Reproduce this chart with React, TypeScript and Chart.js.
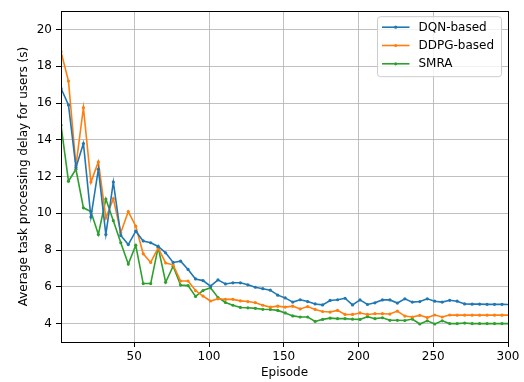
import React, { useEffect, useRef } from "react";
import { Chart, registerables } from "chart.js";

Chart.register(...registerables);

const episodes = [
  1, 6, 11, 16, 21, 26, 31, 36, 41, 46, 51, 56, 61, 66, 71, 76, 81, 86, 91, 96,
  101, 106, 111, 116, 121, 126, 131, 136, 141, 146, 151, 156, 161, 166, 171, 176,
  181, 186, 191, 196, 201, 206, 211, 216, 221, 226, 231, 236, 241, 246, 251, 256,
  261, 266, 271, 276, 281, 286, 291, 296, 301,
];

const dqnBased = [
  16.8, 15.9, 12.5, 13.8, 9.8, 12.4, 8.85, 11.7, 8.8, 8.3, 9.03, 8.5, 8.4, 8.2,
  7.85, 7.33, 7.4, 6.95, 6.43, 6.34, 6.04, 6.38, 6.16, 6.22, 6.22, 6.11, 5.98,
  5.9, 5.82, 5.55, 5.4, 5.17, 5.3, 5.2, 5.07, 5.02, 5.26, 5.3, 5.38, 5.02, 5.29,
  5.04, 5.13, 5.29, 5.29, 5.12, 5.35, 5.17, 5.2, 5.35, 5.22, 5.17, 5.27, 5.22,
  5.07, 5.06, 5.06, 5.05, 5.05, 5.05, 5.04,
];

const ddpgBased = [
  18.8, 17.2, 12.6, 15.75, 11.7, 12.8, 9.75, 10.8, 8.95, 10.1, 9.3, 7.8, 7.33,
  8.12, 7.3, 7.2, 6.32, 6.32, 5.8, 5.5, 5.23, 5.35, 5.32, 5.32, 5.24, 5.2, 5.14,
  5.0, 4.9, 4.95, 4.9, 4.95, 4.8, 4.93, 4.77, 4.66, 4.63, 4.72, 4.5, 4.5, 4.58,
  4.5, 4.54, 4.54, 4.52, 4.68, 4.41, 4.36, 4.45, 4.33, 4.47, 4.36, 4.47, 4.46,
  4.46, 4.46, 4.46, 4.46, 4.46, 4.46, 4.46,
];

const smra = [
  14.8, 11.75, 12.4, 10.3, 10.1, 8.85, 10.78, 9.6, 8.4, 7.24, 8.26, 6.18, 6.18,
  8.15, 6.25, 7.12, 6.1, 6.07, 5.48, 5.8, 5.95, 5.42, 5.15, 5.0, 4.88, 4.86, 4.83,
  4.78, 4.77, 4.72, 4.58, 4.42, 4.36, 4.36, 4.12, 4.23, 4.3, 4.27, 4.27, 4.24,
  4.23, 4.38, 4.27, 4.32, 4.18, 4.18, 4.17, 4.25, 3.98, 4.15, 3.98, 4.15, 4.0,
  4.0, 4.03, 4.0, 4.0, 4.0, 4.0, 4.0, 4.0,
];

const seriesNames = ["DQN-based", "DDPG-based", "SMRA"];
const seriesColors = ["#1f77b4", "#ff7f0e", "#2ca02c"];
const xTicks = [50, 100, 150, 200, 250, 300];
const yTicks = [4, 6, 8, 10, 12, 14, 16, 18, 20];
const xTitle = "Episode";
const yTitle = "Average task processing delay for users (s)";

const FONT = "'DejaVu Sans', sans-serif";

const framePlugin = {
  id: "frame",
  afterDatasetsDraw(chart: any) {
    const { ctx, chartArea: a } = chart;
    ctx.save();
    ctx.strokeStyle = "#000";
    ctx.lineWidth = 1;
    const l = Math.round(a.left) + 0.5;
    const t = Math.round(a.top) + 0.5;
    const r = Math.round(a.right) + 0.5;
    const b = Math.round(a.bottom) + 0.5;
    ctx.strokeRect(l, t, r - l, b - t);
    ctx.restore();
  },
};

const legendPlugin = {
  id: "innerLegend",
  afterDraw(chart: any) {
    const { ctx, chartArea: a } = chart;
    const w = 124;
    const h = 60;
    const x = a.right - 6.5 - w;
    const y = a.top + 5.5;
    ctx.save();
    ctx.beginPath();
    const rr = 3;
    ctx.moveTo(x + rr, y);
    ctx.lineTo(x + w - rr, y);
    ctx.arcTo(x + w, y, x + w, y + rr, rr);
    ctx.lineTo(x + w, y + h - rr);
    ctx.arcTo(x + w, y + h, x + w - rr, y + h, rr);
    ctx.lineTo(x + rr, y + h);
    ctx.arcTo(x, y + h, x, y + h - rr, rr);
    ctx.lineTo(x, y + rr);
    ctx.arcTo(x, y, x + rr, y, rr);
    ctx.closePath();
    ctx.fillStyle = "rgba(255,255,255,0.8)";
    ctx.fill();
    ctx.strokeStyle = "#cccccc";
    ctx.lineWidth = 1;
    ctx.stroke();
    ctx.font = `12px ${FONT}`;
    ctx.textBaseline = "middle";
    ctx.textAlign = "left";
    seriesNames.forEach((name, i) => {
      const cy = y + 10.5 + i * 18.3;
      ctx.strokeStyle = seriesColors[i];
      ctx.lineWidth = 1.6;
      ctx.beginPath();
      ctx.moveTo(x + 4.5, cy);
      ctx.lineTo(x + 32, cy);
      ctx.stroke();
      ctx.fillStyle = seriesColors[i];
      ctx.beginPath();
      ctx.arc(x + 18.2, cy, 1.6, 0, Math.PI * 2);
      ctx.fill();
      ctx.fillStyle = "#000";
      ctx.fillText(name, x + 41, cy + 0.5);
    });
    ctx.restore();
  },
};

export default function App() {
  const canvasRef = useRef<HTMLCanvasElement | null>(null);

  useEffect(() => {
    document.body.style.margin = "0";
    const canvas = canvasRef.current;
    if (!canvas) return;
    Chart.defaults.font.family = FONT;
    Chart.defaults.font.size = 12;
    Chart.defaults.color = "#000";

    const seriesValues = [dqnBased, ddpgBased, smra];
    const datasets = seriesNames.map((name, i) => ({
      label: name,
      data: episodes.map((e, j) => ({ x: e, y: seriesValues[i][j] })),
      borderColor: seriesColors[i],
      backgroundColor: seriesColors[i],
      pointBackgroundColor: seriesColors[i],
      pointBorderWidth: 0,
      pointRadius: 1.6,
      pointHoverRadius: 1.6,
      borderWidth: 1.6,
      tension: 0,
      fill: false,
    }));

    const chart = new Chart(canvas, {
      type: "line",
      data: { datasets },
      options: {
        responsive: false,
        animation: false,
        devicePixelRatio: 1,
        layout: { padding: { left: 0, right: 16, top: 10, bottom: 0 } },
        plugins: {
          legend: { display: false },
          tooltip: { enabled: false },
        },
        scales: {
          x: {
            type: "linear",
            min: 1,
            max: 300,
            afterBuildTicks: (scale: any) => {
              scale.ticks = xTicks.map((v) => ({ value: v }));
            },
            afterFit: (scale: any) => {
              scale.height = 40;
            },
            ticks: {
              autoSkip: false,
              maxRotation: 0,
              padding: 3,
              color: "#000",
              font: { size: 12, family: FONT },
              callback: (v: any) => String(v),
            },
            grid: {
              color: "#b0b0b0",
              lineWidth: 0.8,
              drawTicks: true,
              tickLength: 5,
              tickColor: "#000",
              tickWidth: 1,
            },
            border: { display: false },
            title: {
              display: true,
              text: xTitle,
              color: "#000",
              font: { size: 12, family: FONT },
              padding: { top: 0, bottom: 2 },
            },
          },
          y: {
            type: "linear",
            min: 3,
            max: 21,
            afterBuildTicks: (scale: any) => {
              scale.ticks = yTicks.map((v) => ({ value: v }));
            },
            afterFit: (scale: any) => {
              scale.width = 61;
            },
            ticks: {
              autoSkip: false,
              padding: 4,
              color: "#000",
              font: { size: 12, family: FONT },
              callback: (v: any) => String(v),
            },
            grid: {
              color: "#b0b0b0",
              lineWidth: 0.8,
              drawTicks: true,
              tickLength: 5,
              tickColor: "#000",
              tickWidth: 1,
            },
            border: { display: false },
            title: {
              display: true,
              text: yTitle,
              color: "#000",
              font: { size: 12, family: FONT },
              padding: { top: 17, bottom: 0 },
            },
          },
        },
      },
      plugins: [framePlugin, legendPlugin],
    });

    return () => {
      chart.destroy();
    };
  }, []);

  return (
    <div style={{ position: "absolute", left: 0, top: 0, width: 524, height: 382, background: "#fff" }}>
      <canvas ref={canvasRef} width={524} height={382} style={{ display: "block" }} />
    </div>
  );
}
